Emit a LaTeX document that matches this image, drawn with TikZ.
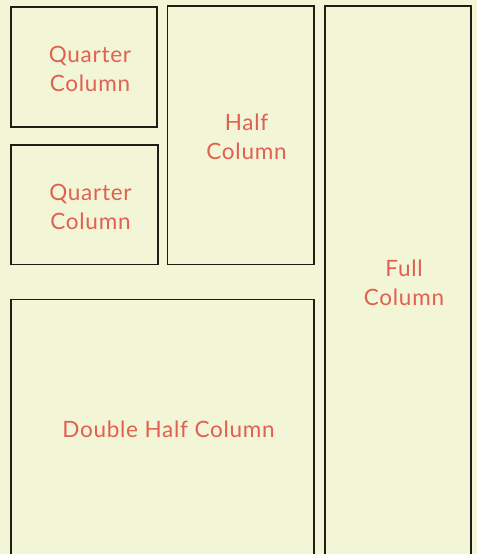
\documentclass[tikz,border=0pt]{standalone}
\usepackage{fontspec}
\setmainfont{Lato}[LetterSpace=3.3]
\definecolor{bg}{RGB}{242,245,214}
\definecolor{txt}{RGB}{226,96,80}
\definecolor{edge}{RGB}{30,30,25}
\begin{document}
\begin{tikzpicture}[x=1pt,y=-1pt,
  box/.style={draw=edge,line width=1.2pt,fill=bg},
  lbl/.style={text=txt,font=\fontsize{22.5}{29}\selectfont,align=center,inner sep=0pt}]
\useasboundingbox[fill=bg] (0,0) rectangle (477,554);
\clip (0,0) rectangle (477,554);
\draw[box] (11,7) rectangle (157,127);
\coordinate (qa) at (84,68.5);
\draw[box] (11,145) rectangle (158,264.5);
\coordinate (qb) at (84.5,206.5);
\draw[box] (167.5,6) rectangle (314,264.5);
\coordinate (ha) at (240.5,136.5);
\draw[box] (325,6) rectangle (471,560);
\coordinate (fu) at (398,283);
\draw[box] (11,299.5) rectangle (314,560);
\coordinate (dh) at (162.5,429.5);
\node[lbl] (tqa) at ([xshift=6pt]qa) {Quarter\\Column};
\node[lbl] (tqb) at ([xshift=6pt]qb) {Quarter\\Column};
\node[lbl] (tha) at ([xshift=6pt]ha) {Half\\Column};
\node[lbl] (tfu) at ([xshift=6pt]fu) {Full\\Column};
\node[lbl] (tdh) at ([xshift=6pt]dh) {Double Half Column};
\end{tikzpicture}
\end{document}
